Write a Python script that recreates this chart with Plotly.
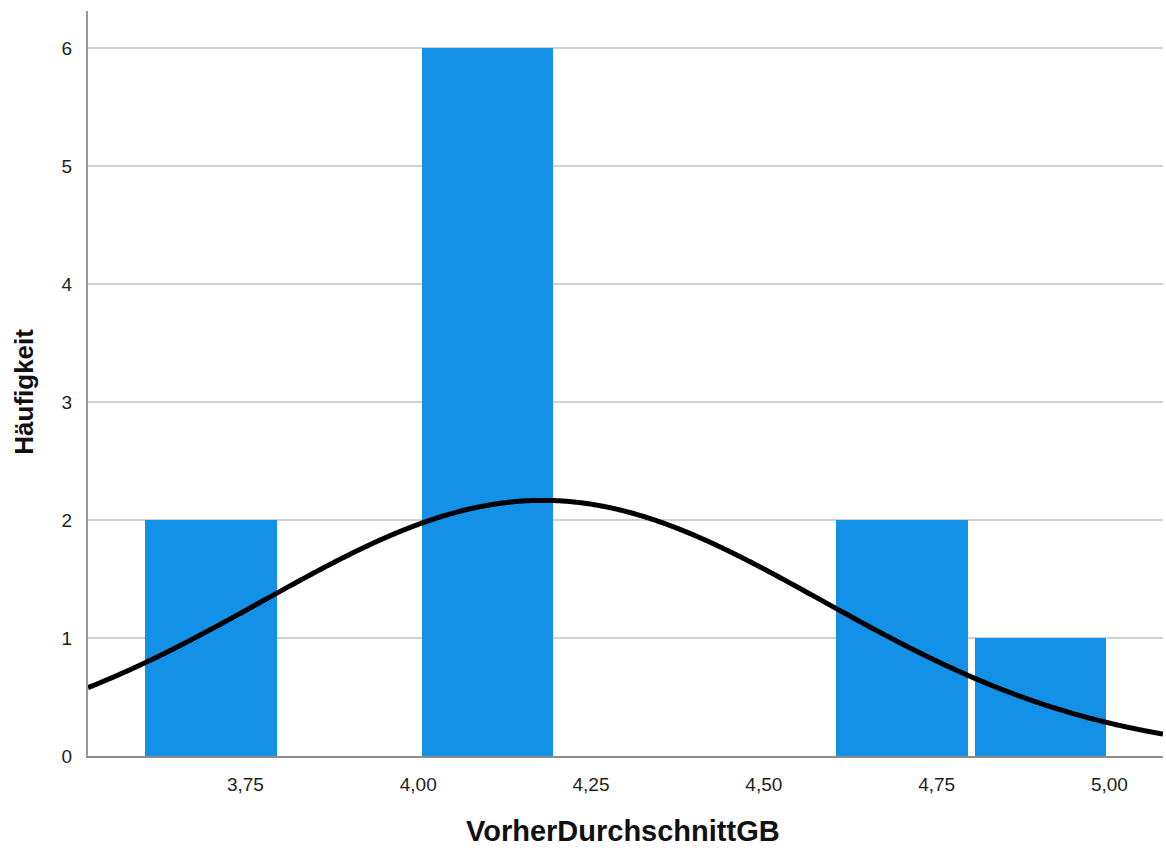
import numpy as np
import plotly.graph_objects as go

# Histogram data (bin edges of width 0.2)
bin_starts = [3.6, 3.8, 4.0, 4.2, 4.4, 4.6, 4.8]
bin_counts = [2, 0, 6, 0, 0, 2, 1]
bin_width = 0.2
n_total = 11

# Normal curve parameters
curve_mean = 4.18
curve_sd = 0.405

x_tickvals = [3.75, 4.00, 4.25, 4.50, 4.75, 5.00]
x_ticktext = ["3,75", "4,00", "4,25", "4,50", "4,75", "5,00"]
y_tickvals = [0, 1, 2, 3, 4, 5, 6]
y_ticktext = ["0", "1", "2", "3", "4", "5", "6"]

x_title = "VorherDurchschnittGB"
y_title = "Häufigkeit"

x_range = [3.5223, 5.0775]
y_range = [0, 6.316]

bin_centers = [s + bin_width / 2 for s in bin_starts]

xs = np.linspace(x_range[0], x_range[1], 600)
ys = n_total * bin_width * np.exp(-0.5 * ((xs - curve_mean) / curve_sd) ** 2) / (curve_sd * np.sqrt(2 * np.pi))

FONT = "Liberation Sans, Arial, sans-serif"

fig = go.Figure()
fig.add_trace(go.Bar(
    x=bin_centers, y=bin_counts, width=bin_width * 0.95,
    marker=dict(color="#1391E6", line=dict(width=0)),
    showlegend=False, hoverinfo="skip",
))
fig.add_trace(go.Scatter(
    x=xs, y=ys, mode="lines",
    line=dict(color="black", width=5, shape="spline", simplify=False),
    showlegend=False, hoverinfo="skip",
))

fig.update_layout(
    width=1166, height=852,
    margin=dict(l=88, r=3, t=11, b=96),
    plot_bgcolor="white", paper_bgcolor="white",
    font=dict(family=FONT, color="#222222"),
    bargap=0,
    xaxis=dict(
        range=x_range, tickvals=x_tickvals, ticktext=x_ticktext,
        showgrid=False, zeroline=False,
        showline=True, linecolor="#8c8c8c", linewidth=2,
        ticks="outside", ticklen=10, tickcolor="rgba(0,0,0,0)",
        tickfont=dict(size=19, family=FONT, color="#1e1e1e"),
    ),
    yaxis=dict(
        range=y_range, tickvals=y_tickvals, ticktext=y_ticktext,
        showgrid=True, gridcolor="#d0d0d0", gridwidth=2,
        zeroline=False,
        showline=True, linecolor="#999999", linewidth=2,
        ticks="outside", ticklen=10, tickcolor="rgba(0,0,0,0)",
        tickfont=dict(size=19, family=FONT, color="#1e1e1e"),
    ),
    annotations=[
        dict(text="<b>" + x_title + "</b>", xref="paper", yref="paper",
             x=0.4977, y=-0.1013, xanchor="center", yanchor="middle",
             showarrow=False, font=dict(size=29, family=FONT, color="#111111")),
        dict(text="<b>" + y_title + "</b>", xref="paper", yref="paper",
             x=-0.0595, y=0.489, xanchor="center", yanchor="middle", textangle=-90,
             showarrow=False, font=dict(size=26, family=FONT, color="#111111")),
    ],
)

fig.write_html("out.html", config={"displayModeBar": False})

# remove default browser body margin so the figure sits at the page origin
with open("out.html", "r", encoding="utf-8") as f:
    html = f.read()
html = html.replace("<body>", '<body style="margin:0;padding:0;">', 1)
html = html.replace("<head>", "<head><style>html,body{margin:0;padding:0;overflow:hidden;}</style>", 1)
with open("out.html", "w", encoding="utf-8") as f:
    f.write(html)
